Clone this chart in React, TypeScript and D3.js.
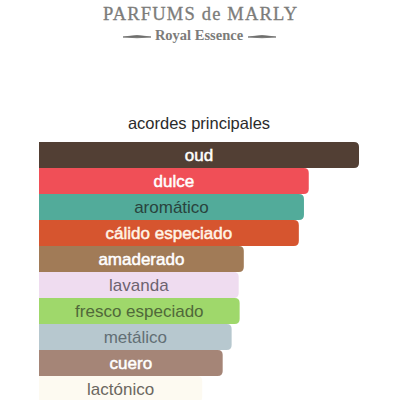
import React, { useEffect, useRef } from "react";
import * as d3 from "d3";

const accords = [
  "oud",
  "dulce",
  "aromático",
  "cálido especiado",
  "amaderado",
  "lavanda",
  "fresco especiado",
  "metálico",
  "cuero",
  "lactónico",
];
const strength = [100, 84.3, 82.8, 81.2, 64, 62.4, 62.7, 60.2, 57.4, 51];
const barColors = [
  "#523f34",
  "#f04f57",
  "#52ab9a",
  "#d6552f",
  "#a17b57",
  "#efdcf0",
  "#9fd86b",
  "#b7c8cf",
  "#a58577",
  "#fdfaf1",
];
const labelColors = [
  "#ffffff",
  "#ffffff",
  "#29433d",
  "#fff4e6",
  "#ffffff",
  "#6d6370",
  "#50693a",
  "#626f75",
  "#ffffff",
  "#6b6760",
];

const W = 400;
const H = 400;

export default function App() {
  const ref = useRef<SVGSVGElement>(null);

  useEffect(() => {
    const svg = d3.select(ref.current);
    svg.selectAll("*").remove();

    const x = d3.scaleLinear().domain([0, 100]).range([0, 320]);
    const y = d3
      .scaleBand()
      .domain(accords)
      .range([142, 142 + 26 * accords.length])
      .padding(0);

    // brand header
    const head = svg.append("g").attr("font-family", "'Liberation Serif', 'DejaVu Serif', serif");
    head
      .append("text")
      .attr("x", 200)
      .attr("y", 20)
      .attr("text-anchor", "middle")
      .attr("font-size", 18.5)
      .attr("fill", "#7c7c7a")
      .attr("stroke", "#7c7c7a")
      .attr("stroke-width", 0.3)
      .attr("textLength", 194)
      .text("PARFUMS de MARLY");
    head
      .append("text")
      .attr("x", 199)
      .attr("y", 40)
      .attr("text-anchor", "middle")
      .attr("font-size", 14.5)
      .attr("font-weight", "bold")
      .attr("fill", "#7c7c7a")
      .text("Royal Essence");
    const flourish = (x0: number, dir: number) =>
      `M${x0},37 Q${x0 + dir * 14},34 ${x0 + dir * 28},37 Q${x0 + dir * 14},38.5 ${x0},37 Z`;
    head.append("path").attr("d", flourish(151, -1)).attr("fill", "#6f6f6d").attr("stroke", "#6f6f6d").attr("stroke-width", 0.8);
    head.append("path").attr("d", flourish(248, 1)).attr("fill", "#6f6f6d").attr("stroke", "#6f6f6d").attr("stroke-width", 0.8);

    svg
      .append("text")
      .attr("x", 199)
      .attr("y", 129)
      .attr("text-anchor", "middle")
      .attr("font-family", "'Liberation Sans', Arial, sans-serif")
      .attr("font-size", 16.5)
      .attr("fill", "#2b2b2b")
      .text("acordes principales");

    const left = 39;
    const r = 5;
    const bars = svg
      .append("g")
      .selectAll("g")
      .data(accords)
      .join("g")
      .attr("transform", (d) => `translate(${left},${y(d)})`);

    bars
      .append("path")
      .attr("d", (d, i) => {
        const w = x(strength[i]);
        const h = y.bandwidth();
        return `M0,0 H${w - r} Q${w},0 ${w},${r} V${h - r} Q${w},${h} ${w - r},${h} H0 Z`;
      })
      .attr("fill", (d, i) => barColors[i]);

    bars
      .append("text")
      .attr("x", (d, i) => x(strength[i]) / 2)
      .attr("y", 18.5)
      .attr("text-anchor", "middle")
      .attr("font-family", "'Liberation Sans', Arial, sans-serif")
      .attr("font-size", 17)
      .attr("fill", (d, i) => labelColors[i])
      .attr("stroke", (d, i) => (labelColors[i] === "#ffffff" || i === 3 ? labelColors[i] : "none"))
      .attr("stroke-width", 0.5)
      .text((d) => d);
  }, []);

  return (
    <svg
      ref={ref}
      width={W}
      height={H}
      style={{ position: "absolute", left: 0, top: 0, background: "#fff" }}
    />
  );
}
